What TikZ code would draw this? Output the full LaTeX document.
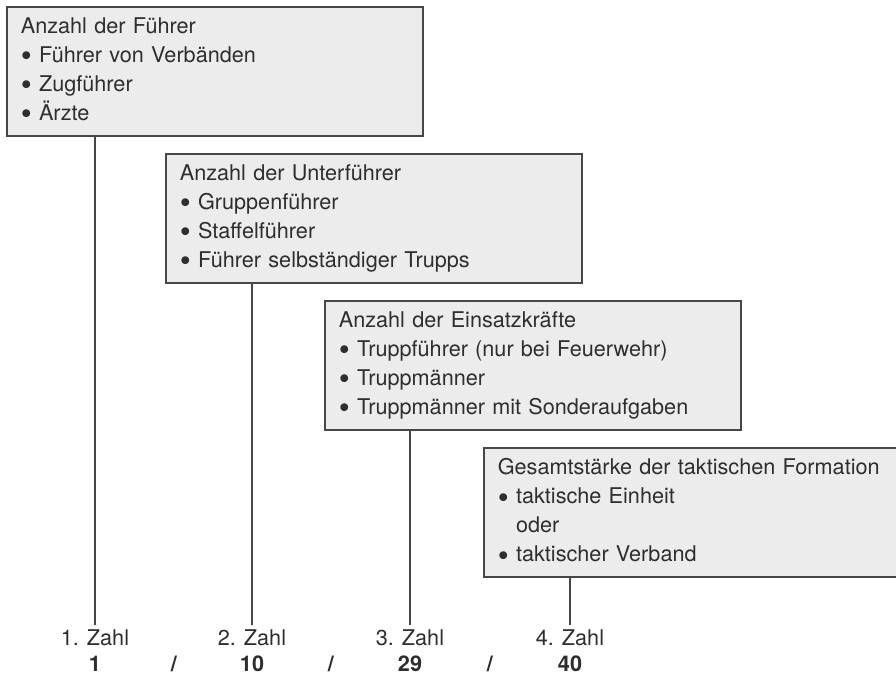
\documentclass[tikz,border=0pt]{standalone}
\usepackage{fontspec}
\usepackage{graphicx}
\setmainfont{TeX Gyre Heros}

\definecolor{boxfill}{HTML}{EBECEB}
\definecolor{boxline}{HTML}{474747}
\definecolor{txt}{HTML}{2E2E2E}

\newcommand{\pkt}{\raisebox{-0.38ex}{\scalebox{1.45}{\textbullet}}\ }

\tikzset{
  infobox/.style={draw=boxline, line width=1.2pt, fill=boxfill, anchor=north west,
    minimum width=10.35cm, minimum height=3.225cm, text width=9.7cm,
    inner xsep=0.35cm, align=left, text=txt, font=\fontsize{15.4}{20.6}\selectfont},
  zahl/.style={text=txt, font=\fontsize{15.4}{18}\selectfont, inner sep=3pt},
  wert/.style={text=txt, font=\fontsize{15.4}{18}\selectfont\bfseries},
  stem/.style={draw=boxline, line width=0.8pt}
}

\begin{document}
\begin{tikzpicture}[x=0.025cm,y=-0.025cm]
\useasboundingbox (0,0) rectangle (896,680);

\node[infobox] (fuehrer) at (6,6) {Anzahl der Führer\\
  \pkt Führer von Verbänden\\
  \pkt Zugführer\\
  \pkt Ärzte};

\node[infobox] (unter) at (165,153) {Anzahl der Unterführer\\
  \pkt Gruppenführer\\
  \pkt Staffelführer\\
  \pkt Führer selbständiger Trupps};

\node[infobox] (einsatz) at (324,300) {Anzahl der Einsatzkräfte\\
  \pkt Truppführer (nur bei Feuerwehr)\\
  \pkt Truppmänner\\
  \pkt Truppmänner mit Sonderaufgaben};

\node[infobox] (gesamt) at (483,447) {Gesamtstärke der taktischen Formation\\
  \pkt taktische Einheit\\
  \phantom{\pkt}oder\\
  \pkt taktischer Verband};

% Zahlen unten
\node[zahl] (z1) at (95,638) {1. Zahl};
\node[zahl] (z2) at (252,638) {2. Zahl};
\node[zahl] (z3) at (410,638) {3. Zahl};
\node[zahl] (z4) at (570,638) {4. Zahl};

\node[wert] (w1) at (95,664) {1};
\node[wert] (w2) at (252,664) {10};
\node[wert] (w3) at (410,664) {29};
\node[wert] (w4) at (570,664) {40};

\node[wert] (s1) at (174,664) {/};
\node[wert] (s2) at (331,664) {/};
\node[wert] (s3) at (490,664) {/};

\draw[stem] (fuehrer.south -| z1) -- (z1.north);
\draw[stem] (unter.south -| z2) -- (z2.north);
\draw[stem] (einsatz.south -| z3) -- (z3.north);
\draw[stem] (gesamt.south -| z4) -- (z4.north);
\end{tikzpicture}
\end{document}
